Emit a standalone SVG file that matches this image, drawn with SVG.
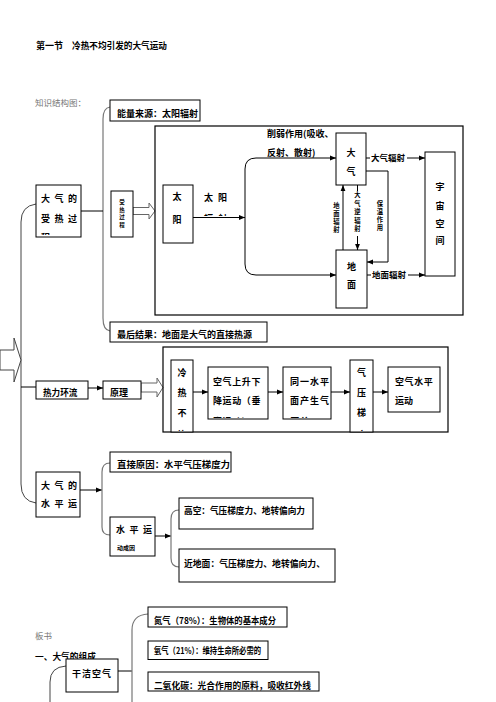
<svg xmlns="http://www.w3.org/2000/svg" width="496" height="702" viewBox="0 0 496 702">
<style>
text{font-family:"Noto Sans CJK SC","Liberation Sans",sans-serif;font-size:9px;font-weight:bold;fill:#000}
.g{font-weight:normal;fill:#777;font-size:8.5px}
.sm{font-size:6.3px}
.xs{font-size:5.5px}
.box{fill:#fff;stroke:#000;stroke-width:1}
.big{fill:none;stroke:#000;stroke-width:1.2}
.ln{fill:none;stroke:#000;stroke-width:1}
.br{fill:none;stroke:#777;stroke-width:1.2}
.br2{fill:none;stroke:#444;stroke-width:1}
.ha{fill:#fff;stroke:#666;stroke-width:1}
.sp{letter-spacing:4.5px}
.mid{text-anchor:middle}
</style>
<defs>
<marker id="ah" viewBox="0 0 10 10" refX="10" refY="5" markerWidth="6" markerHeight="6" markerUnits="userSpaceOnUse" orient="auto"><path d="M0,1 L10,5 L0,9 z" fill="#000"/></marker>
<clipPath id="c1"><rect x="36" y="185" width="45" height="50"/></clipPath>
<clipPath id="c2"><rect x="171" y="360" width="22" height="71"/></clipPath>
<clipPath id="c3"><rect x="208" y="367" width="60" height="51"/></clipPath>
<clipPath id="c4"><rect x="283" y="367" width="48" height="51"/></clipPath>
<clipPath id="c5"><rect x="350" y="360" width="23" height="71"/></clipPath>
<clipPath id="c6"><rect x="200" y="185" width="40" height="31"/></clipPath>
</defs>

<g id="title">
<text x="36" y="48.5">第一节</text>
<text x="72" y="48.5" textLength="95" lengthAdjust="spacingAndGlyphs">冷热不均引发的大气运动</text>
<text class="g" x="35" y="106">知识结构图：</text>
</g>

<g id="connectors">
<path class="br" d="M110,107 Q103,108 103,119 V318 Q103,330 110,331"/>
<path class="ln" d="M81,211 H103"/>
<path class="br2" d="M36,204 Q21,206 21,222 V484 Q21,501 36,503"/>
<path class="ln" d="M21,387 H36"/>
<polygon class="ha" points="0,350 14,350 14,338 21,360 14,382 14,370 0,370" style="stroke:#444"/>
<path class="ln" d="M88,388 H103" marker-end="url(#ah)"/>
<polygon class="ha" points="141,383 157,383 157,378 163,387.5 157,397 157,392 141,392"/>
<polygon class="ha" points="133,207.5 149,207.5 149,203 155,211 149,219 149,214.5 133,214.5"/>
<path class="ln" d="M193,217.5 H245" marker-end="url(#ah)"/>
<path class="ln" d="M256,158 Q245,158 245,169 V264 Q245,275 256,275"/>
<path class="ln" d="M256,158 H336" marker-end="url(#ah)"/>
<path class="ln" d="M256,275 H336" marker-end="url(#ah)"/>
<path class="ln" d="M366,158 H425" marker-end="url(#ah)"/>
<path class="ln" d="M367,275 H425" marker-end="url(#ah)"/>
<path class="ln" d="M343,250 V185" marker-end="url(#ah)"/>
<path class="ln" d="M357.5,185 V250" marker-end="url(#ah)"/>
<path class="ln" d="M366,171 H388 V262 H367" marker-end="url(#ah)"/>
<path class="ln" d="M193,392 H208" marker-end="url(#ah)"/>
<path class="ln" d="M268,392 H283" marker-end="url(#ah)"/>
<path class="ln" d="M331,392 H350" marker-end="url(#ah)"/>
<path class="ln" d="M373,392 H388" marker-end="url(#ah)"/>
<path class="ln" d="M80,490 H102" marker-end="url(#ah)"/>
<path class="br" d="M110,463 Q102,463 102,472 V527 Q102,535 110,535"/>
<path class="ln" d="M155,536 H171" marker-end="url(#ah)"/>
<path class="br" d="M179,510 Q171,510 171,519 V558 Q171,567 179,567"/>
<path class="br2" d="M66,666 Q50,667 50,682 V702"/>
<path class="ln" d="M118,671 H132"/>
<path class="br" d="M148,614 Q132,615 132,630 V702"/>
</g>

<g id="n-energy"><rect class="box" x="110" y="100" width="90" height="21"/><text x="117" y="117" textLength="81" lengthAdjust="spacingAndGlyphs">能量来源：太阳辐射</text></g>
<g id="n-result"><rect class="box" x="110" y="322" width="157" height="20"/><text x="117" y="338.4">最后结果：地面是大气的直接热源</text></g>
<g id="n-heating"><rect class="box" x="36" y="185" width="45" height="52"/>
<g clip-path="url(#c1)"><text class="sp" x="41" y="201.5">大气的</text><text class="sp" x="41" y="221.5">受热过</text><text x="41" y="240.5">程</text></g></g>
<g id="n-process"><rect class="box" x="111" y="191" width="22" height="46"/>
<text class="xs mid" x="122" y="204">受<tspan x="122" dy="7.5">热</tspan><tspan x="122" dy="7.5">过</tspan><tspan x="122" dy="7.5">程</tspan></text></g>

<g id="n-frame1"><rect class="big" x="155" y="126" width="308" height="189"/></g>
<g id="n-weaken"><text x="267" y="137.4">削弱作用(吸收、</text><text x="267" y="156">反射、散射)</text></g>
<g id="n-sun"><rect class="box" x="163" y="185" width="30" height="58"/><text class="mid" x="177" y="200.4">太</text><text class="mid" x="177" y="223.4">阳</text></g>
<g id="n-sunrad"><g clip-path="url(#c6)"><text x="204" y="201" style="letter-spacing:5px">太阳</text><text x="204" y="221.5" style="letter-spacing:5px">辐射</text></g></g>
<g id="n-atm"><rect class="box" x="336" y="133" width="30" height="52"/><text class="mid" x="351" y="156.4">大</text><text class="mid" x="351" y="175">气</text></g>
<g id="n-ground"><rect class="box" x="336" y="250" width="31" height="58"/><text class="mid" x="351.5" y="270">地</text><text class="mid" x="351.5" y="288.4">面</text></g>
<g id="n-space"><rect class="box" x="425" y="152" width="30" height="124"/>
<text class="mid" x="440" y="190">宇</text><text class="mid" x="440" y="208.5">宙</text><text class="mid" x="440" y="226.5">空</text><text class="mid" x="440" y="243.5">间</text></g>
<g id="l-atmrad"><rect x="370" y="152" width="37" height="12" fill="#fff"/><text x="371" y="161.4" style="font-size:8.5px">大气辐射</text></g>
<g id="l-grdrad"><rect x="371" y="269" width="37" height="12" fill="#fff"/><text x="372" y="278.4" style="font-size:8.5px">地面辐射</text></g>
<g id="l-grdrad-v"><text class="sm mid" x="336.5" y="208">地<tspan x="336.5" dy="8">面</tspan><tspan x="336.5" dy="8">辐</tspan><tspan x="336.5" dy="8">射</tspan></text></g>
<g id="l-counter"><rect x="354" y="191" width="7" height="45" fill="#fff"/><text class="sm mid" x="357.5" y="197">大<tspan x="357.5" dy="8.5">气</tspan><tspan x="357.5" dy="8.5">逆</tspan><tspan x="357.5" dy="8.5">辐</tspan><tspan x="357.5" dy="8.5">射</tspan></text></g>
<g id="l-keep"><text class="sm mid" x="380" y="206">保<tspan x="380" dy="8">温</tspan><tspan x="380" dy="8">作</tspan><tspan x="380" dy="8">用</tspan></text></g>

<g id="n-circ"><rect class="box" x="36" y="381" width="52" height="18"/><text x="43" y="396" style="font-size:8.6px">热力环流</text></g>
<g id="n-principle"><rect class="box" x="103" y="381" width="38" height="18"/><text x="110" y="396">原理</text></g>
<g id="n-frame2"><rect class="big" x="163" y="347" width="285" height="85"/></g>
<g id="n-uneven"><rect class="box" x="171" y="360" width="22" height="72"/>
<g clip-path="url(#c2)"><text class="mid" x="182" y="376.4">冷</text><text class="mid" x="182" y="396.4">热</text><text class="mid" x="182" y="416.4">不</text><text class="mid" x="182" y="437.5">均</text></g></g>
<g id="n-vertical"><rect class="box" x="208" y="367" width="60" height="52"/>
<g clip-path="url(#c3)" style="letter-spacing:0.6px"><text x="213" y="384.5">空气上升下</text><text x="213" y="403.5">降运动（垂</text><text x="213" y="425">直运动）</text></g></g>
<g id="n-diff"><rect class="box" x="283" y="367" width="48" height="52"/>
<g clip-path="url(#c4)" style="letter-spacing:1px"><text x="290" y="384.5">同一水平</text><text x="290" y="403.5">面产生气</text><text x="290" y="425">压差</text></g></g>
<g id="n-gradient"><rect class="box" x="350" y="360" width="23" height="72"/>
<g clip-path="url(#c5)"><text class="mid" x="361.5" y="376.4">气</text><text class="mid" x="361.5" y="396.4">压</text><text class="mid" x="361.5" y="416.4">梯</text><text class="mid" x="361.5" y="437.5">度</text></g></g>
<g id="n-horiz"><rect class="box" x="388" y="367" width="52" height="45"/><text x="395" y="384.5" style="letter-spacing:0.6px">空气水平</text><text x="395" y="403.5">运动</text></g>

<g id="n-hmove"><rect class="box" x="36" y="472" width="44" height="45"/><text class="sp" x="41" y="488.5">大气的</text><text class="sp" x="41" y="506.7">水平运</text></g>
<g id="n-direct"><rect class="box" x="110" y="452" width="121" height="20"/><text x="117" y="467.5" textLength="113" lengthAdjust="spacingAndGlyphs">直接原因：水平气压梯度力</text></g>
<g id="n-cause"><rect class="box" x="110" y="517" width="45" height="39"/><text class="sp" x="116" y="533.4">水平运</text><text x="117" y="550" style="font-size:6px">动成因</text></g>
<g id="n-high"><rect class="box" x="179" y="498" width="134" height="31"/><text x="184" y="514" textLength="121" lengthAdjust="spacingAndGlyphs">高空：气压梯度力、地转偏向力</text></g>
<g id="n-low"><rect class="box" x="179" y="549" width="156" height="33"/><text x="184" y="566.7" textLength="141" lengthAdjust="spacingAndGlyphs">近地面：气压梯度力、地转偏向力、</text></g>

<g id="board">
<text class="g" x="35" y="638.5">板书</text>
<text x="35" y="660" style="font-size:8.7px">一、大气的组成</text>
</g>
<g id="n-dry"><rect class="box" x="66" y="659" width="52" height="33"/><text x="72" y="676.5" style="letter-spacing:1px">干洁空气</text></g>
<g id="n-n2"><rect class="box" x="148" y="607" width="139" height="20"/><text x="154" y="624" textLength="122" lengthAdjust="spacingAndGlyphs">氮气（78%）：生物体的基本成分</text></g>
<g id="n-o2"><rect class="box" x="148" y="641" width="120" height="18.5"/><text x="154" y="654" textLength="107" lengthAdjust="spacingAndGlyphs">氧气（21%）：维持生命所必需的</text></g>
<g id="n-co2"><rect class="box" x="148" y="672" width="171" height="19"/><text x="154" y="688.5" textLength="157" lengthAdjust="spacingAndGlyphs">二氧化碳：光合作用的原料，吸收红外线</text></g>
</svg>
